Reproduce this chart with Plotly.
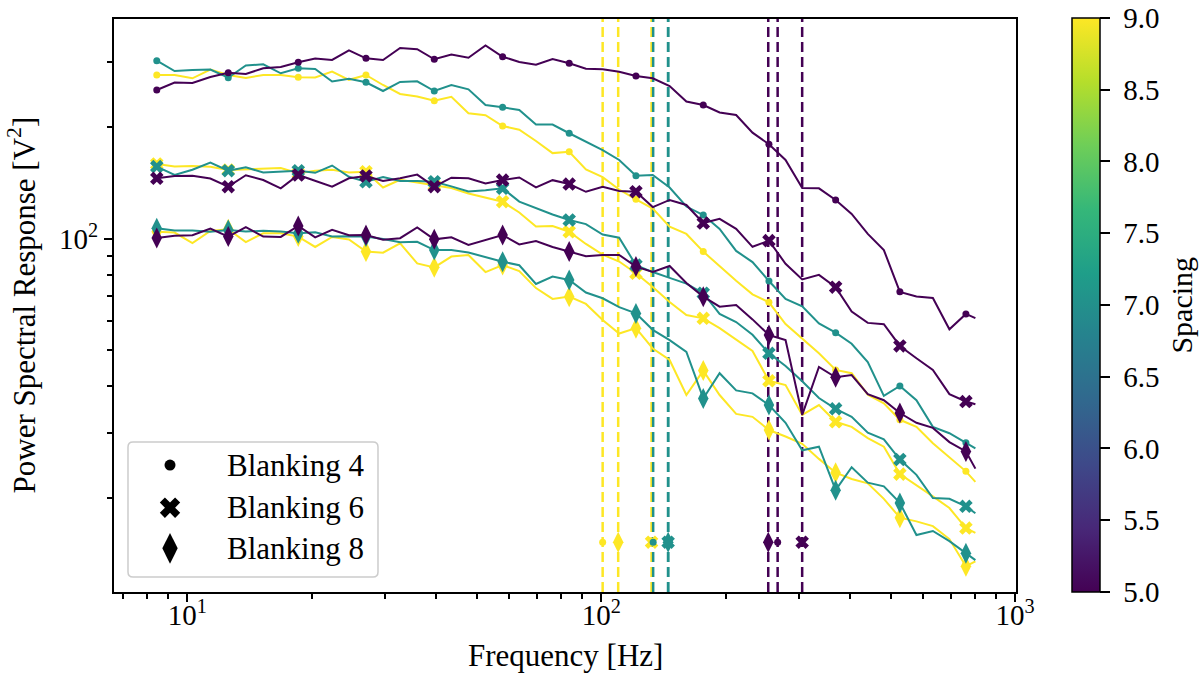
import plotly.graph_objects as go

# ---------------- data ----------------
FREQ = [8.44, 9.32, 10.29, 11.37, 12.56, 13.85, 15.26, 16.82, 18.54, 20.37,
        22.38, 24.58, 27.02, 29.71, 32.67, 35.93, 39.51, 43.45, 47.78, 52.54,
        57.78, 63.39, 69.56, 76.29, 83.69, 91.84, 100.8, 110.5, 121.3, 133.2,
        146.3, 160.6, 176.4, 193.2, 211.8, 232.0, 254.2, 278.8, 305.9, 335.7,
        368.4, 402.7, 440.5, 481.7, 526.6, 577.4, 632.7, 693.6, 760.3, 801.5]

# spacing 5
PSD_S5_B4 = [251.7, 263.6, 263.0, 272.9, 280.2, 277.9, 288.0, 290.3, 298.9, 306.0,
             303.2, 321.8, 306.4, 303.2, 326.6, 324.2, 304.5, 313.7, 307.5, 331.7,
             309.4, 299.5, 294.4, 305.1, 297.0, 287.1, 286.2, 281.9, 274.5, 270.6,
             257.9, 234.2, 229.3, 218.9, 215.5, 193.1, 179.7, 163.0, 137.0, 136.7,
             127.2, 116.6, 103.0, 93.2, 71.9, 69.9, 69.2, 57.0, 62.7, 61.1]
PSD_S5_B6 = [145.5, 147.6, 147.7, 145.3, 138.1, 148.3, 143.9, 136.7, 148.5, 143.0,
             138.1, 145.5, 147.6, 143.0, 145.5, 148.9, 138.1, 146.0, 145.5, 140.8,
             143.9, 146.2, 137.5, 143.8, 140.4, 133.8, 138.1, 134.5, 133.9, 121.7,
             127.2, 123.3, 110.2, 113.1, 106.3, 95.1, 98.8, 85.6, 77.7, 79.9,
             74.0, 63.6, 59.3, 58.8, 51.4, 47.6, 44.3, 38.1, 36.4, 35.8]
PSD_S5_B8 = [100.4, 101.9, 102.2, 106.5, 101.3, 107.5, 101.3, 101.1, 108.2, 100.8,
             105.6, 102.2, 102.3, 99.3, 100.3, 107.2, 99.6, 100.9, 96.2, 99.2,
             102.3, 96.5, 98.6, 95.0, 92.3, 89.7, 90.4, 90.4, 84.1, 81.3,
             84.4, 76.0, 69.8, 65.6, 66.3, 60.6, 55.0, 53.3, 33.5, 45.1,
             42.3, 42.9, 38.1, 36.7, 33.9, 31.9, 30.9, 28.3, 26.7, 24.0]
# spacing 7
PSD_S7_B4 = [301.8, 283.1, 284.9, 285.8, 271.6, 293.0, 295.2, 279.2, 288.0, 286.7,
             265.3, 270.0, 264.0, 250.1, 264.5, 265.7, 250.1, 259.6, 252.7, 229.3,
             226.1, 222.3, 203.1, 203.1, 192.4, 182.8, 173.4, 163.0, 147.9, 148.5,
             137.4, 122.1, 115.8, 106.2, 92.7, 86.5, 76.9, 68.8, 65.7, 59.1,
             55.8, 52.1, 46.5, 37.7, 40.1, 36.7, 31.1, 29.9, 28.2, 27.2]
PSD_S7_B6 = [156.4, 148.5, 153.4, 160.5, 152.5, 155.7, 150.8, 151.3, 152.5, 150.5,
             157.5, 146.9, 142.4, 146.7, 143.0, 143.0, 142.4, 138.4, 134.1, 135.1,
             136.7, 125.9, 120.8, 116.2, 112.3, 109.5, 102.6, 100.6, 84.9, 81.3,
             78.4, 75.7, 71.3, 62.7, 59.6, 55.1, 49.1, 45.4, 41.3, 37.2,
             34.8, 33.1, 30.0, 28.8, 25.4, 23.1, 20.0, 19.9, 19.0, 18.2]
PSD_S7_B8 = [106.7, 105.2, 105.3, 104.4, 105.6, 104.5, 105.1, 104.6, 103.4, 104.1,
             101.4, 101.6, 101.3, 99.8, 97.8, 98.1, 93.2, 93.2, 91.8, 89.1,
             86.7, 84.8, 75.5, 79.1, 77.4, 71.6, 69.1, 65.4, 62.9, 56.8,
             53.3, 49.5, 37.1, 43.4, 39.0, 38.3, 35.6, 31.9, 26.9, 27.5,
             21.0, 24.2, 22.0, 21.5, 19.4, 15.9, 16.3, 15.3, 14.2, 13.6]
# spacing 9
PSD_S9_B4 = [276.2, 276.2, 270.6, 285.8, 276.2, 271.2, 276.2, 276.2, 272.3, 272.0,
             282.2, 268.1, 276.2, 259.6, 245.5, 241.7, 235.5, 241.3, 217.8, 215.3,
             201.3, 196.7, 183.4, 170.1, 171.6, 153.7, 146.5, 135.7, 127.7, 120.6,
             107.8, 103.0, 92.3, 84.2, 77.0, 70.8, 67.4, 58.9, 53.7, 49.1,
             44.3, 43.4, 38.0, 36.0, 32.5, 31.1, 28.1, 25.8, 23.6, 22.1]
PSD_S9_B6 = [159.0, 156.5, 157.0, 156.2, 153.2, 153.8, 154.1, 155.1, 150.1, 152.5,
             153.5, 150.8, 151.6, 137.4, 144.1, 141.8, 139.5, 137.0, 132.4, 129.1,
             125.8, 117.7, 107.9, 108.2, 104.4, 96.8, 90.6, 86.8, 80.7, 74.1,
             67.5, 62.3, 61.0, 57.4, 53.3, 49.8, 41.4, 40.3, 33.5, 35.6,
             32.1, 31.1, 29.0, 27.5, 23.2, 21.7, 20.2, 18.8, 16.6, 16.1]
PSD_S9_B8 = [104.4, 103.9, 97.3, 104.9, 106.0, 97.9, 103.4, 103.4, 101.3, 95.0,
             101.1, 99.5, 92.3, 91.7, 97.2, 85.8, 83.7, 89.5, 90.4, 81.3,
             84.9, 81.8, 73.6, 68.8, 69.8, 66.7, 60.4, 55.5, 57.4, 50.6,
             47.1, 37.9, 44.1, 37.9, 33.7, 33.1, 30.5, 29.3, 28.0, 25.5,
             23.4, 22.5, 21.9, 19.9, 17.7, 17.3, 16.8, 15.5, 13.1, 13.5]

# cutoff frequencies per spacing, ordered as BLANKINGS
CUTOFF_S5 = [266.8, 305.8, 253.2]
CUTOFF_S7 = [133.5, 145.1, 145.1]
CUTOFF_S9 = [100.8, 132.3, 109.9]
CUTOFF_LEVEL = 15.2

SPACINGS = [5, 7, 9]
BLANKINGS = [4, 6, 8]
LEGEND_LABELS = ["Blanking 4", "Blanking 6", "Blanking 8"]

X_TICKVALS = [10, 100, 1000]
X_TICKTEXT = ["10<sup>1</sup>", "10<sup>2</sup>", "10<sup>3</sup>"]
X_MINOR = [7, 8, 9, 20, 30, 40, 50, 60, 70, 80, 90, 200, 300, 400, 500, 600, 700, 800, 900]
Y_TICKVALS = [100]
Y_TICKTEXT = ["10<sup>2</sup>"]
Y_MINOR = [20, 30, 40, 50, 60, 70, 80, 90, 200, 300]
CB_TICKS = [5.0, 5.5, 6.0, 6.5, 7.0, 7.5, 8.0, 8.5, 9.0]

# ---------------- styling ----------------
FONT = "Liberation Serif"
FS = 29          # tick labels
FS_TXT = 31      # axis titles / legend text
COLORS = {5: "#440154", 7: "#21918c", 9: "#fde725"}
SYMBOL = {4: "circle", 6: "x", 8: "diamond-tall"}
MSIZE = {4: 7, 6: 12, 8: 15}
MARK_EVERY = 4
XRANGE = [0.823, 3.002]
YRANGE = [1.0477, 2.5922]

series = {
    (5, 4): PSD_S5_B4, (5, 6): PSD_S5_B6, (5, 8): PSD_S5_B8,
    (7, 4): PSD_S7_B4, (7, 6): PSD_S7_B6, (7, 8): PSD_S7_B8,
    (9, 4): PSD_S9_B4, (9, 6): PSD_S9_B6, (9, 8): PSD_S9_B8,
}
cutoffs = {5: CUTOFF_S5, 7: CUTOFF_S7, 9: CUTOFF_S9}

fig = go.Figure()
shapes = []

for s in [9, 7, 5]:
    col = COLORS[s]
    for k, b in enumerate(BLANKINGS):
        y = series[(s, b)]
        fig.add_trace(go.Scatter(
            x=FREQ, y=y, mode="lines",
            line=dict(color=col, width=2),
            showlegend=False, hoverinfo="skip"))
        fig.add_trace(go.Scatter(
            x=FREQ[::MARK_EVERY], y=y[::MARK_EVERY], mode="markers",
            marker=dict(symbol=SYMBOL[b], size=MSIZE[b], color=col, line=dict(width=0)),
            showlegend=False, hoverinfo="skip"))
        c = cutoffs[s][k]
        shapes.append(dict(type="line", xref="x", yref="paper", x0=c, x1=c, y0=0, y1=1,
                           line=dict(color=col, width=2.5, dash="10px,5px"), layer="below"))
        fig.add_trace(go.Scatter(
            x=[c], y=[CUTOFF_LEVEL], mode="markers",
            marker=dict(symbol=SYMBOL[b], size=MSIZE[b], color=col, line=dict(width=0)),
            showlegend=False, hoverinfo="skip"))

# colorbar
fig.add_trace(go.Scatter(
    x=[None], y=[None], mode="markers", showlegend=False, hoverinfo="skip",
    marker=dict(color=[SPACINGS[0]], cmin=SPACINGS[0], cmax=SPACINGS[-1], colorscale="Viridis",
                showscale=True,
                colorbar=dict(
                    thickness=28, thicknessmode="pixels",
                    len=574, lenmode="pixels",
                    x=1.0621, xanchor="left", xpad=0,
                    y=0.5009, yanchor="middle", ypad=0,
                    outlinewidth=1.5, outlinecolor="black",
                    tickmode="array", tickvals=CB_TICKS,
                    ticktext=[f"\u00a0{v:.1f}" for v in CB_TICKS],
                    ticks="outside", ticklen=10, tickwidth=1.5, tickcolor="black",
                    tickfont=dict(family=FONT, size=FS, color="black"),
                ))))

# manual legend (overlay axes in [0,1] units of the plot area)
LEG_X = 0.0621
LEG_Y = [0.2216, 0.1471, 0.0763]
LEG_SIZE = {4: 11, 6: 18, 8: 22}
fig.add_trace(go.Scatter(
    x=[LEG_X] * 3, y=LEG_Y, xaxis="x2", yaxis="y2", mode="markers",
    marker=dict(symbol=[SYMBOL[b] for b in BLANKINGS], size=[LEG_SIZE[b] for b in BLANKINGS],
                color="#000000", opacity=1, line=dict(width=0)),
    showlegend=False, hoverinfo="skip"))

# legend frame with rounded corners
x0, x1, y0, y1 = 0.01552, 0.29268, 0.02618, 0.26178
rx, ry = 5 / 902, 5 / 573
path = (f"M{x0+rx},{y0} L{x1-rx},{y0} Q{x1},{y0} {x1},{y0+ry} L{x1},{y1-ry} "
        f"Q{x1},{y1} {x1-rx},{y1} L{x0+rx},{y1} Q{x0},{y1} {x0},{y1-ry} "
        f"L{x0},{y0+ry} Q{x0},{y0} {x0+rx},{y0} Z")
shapes.append(dict(type="path", xref="paper", yref="paper", path=path,
                   fillcolor="white", line=dict(color="#cccccc", width=1.5),
                   layer="below"))

annotations = []
for lbl, yy in zip(LEGEND_LABELS, LEG_Y):
    annotations.append(dict(text=lbl, xref="paper", yref="paper", x=0.1231, y=yy,
                            xanchor="left", yanchor="middle", showarrow=False,
                            font=dict(family=FONT, size=FS_TXT, color="black")))
annotations.append(dict(text="Frequency [Hz]", xref="paper", yref="paper", x=0.5, y=0,
                        xanchor="center", yanchor="middle", yshift=-63, showarrow=False,
                        font=dict(family=FONT, size=FS_TXT, color="black")))
annotations.append(dict(text="Power Spectral Response [V<sup>2</sup>]", xref="paper", yref="paper",
                        x=0, y=0.5, xanchor="center", yanchor="middle", xshift=-92,
                        textangle=-90, showarrow=False,
                        font=dict(family=FONT, size=FS_TXT, color="black")))
annotations.append(dict(text="Spacing", xref="paper", yref="paper",
                        x=1.1830, y=0.5, xanchor="center", yanchor="middle",
                        textangle=-90, showarrow=False,
                        font=dict(family=FONT, size=30, color="black")))

axis_common = dict(showline=True, linewidth=2, linecolor="black", mirror=True,
                   showgrid=False, zeroline=False, ticks="outside", ticklen=8,
                   tickwidth=2, tickcolor="black",
                   tickfont=dict(family=FONT, size=FS, color="black"))

fig.update_layout(
    width=1200, height=673,
    margin=dict(l=114, r=184, t=19, b=81),
    paper_bgcolor="white", plot_bgcolor="white",
    showlegend=False,
    font=dict(family=FONT, size=FS, color="black"),
    xaxis=dict(type="log", range=XRANGE, tickmode="array", tickvals=X_TICKVALS,
               ticktext=X_TICKTEXT, ticklabelstandoff=-12,
               minor=dict(tickmode="array", tickvals=X_MINOR, ticks="outside", ticklen=5,
                          tickwidth=1.5, tickcolor="black", showgrid=False),
               **axis_common),
    yaxis=dict(type="log", range=YRANGE, tickmode="array", tickvals=Y_TICKVALS,
               ticktext=Y_TICKTEXT,
               minor=dict(tickmode="array", tickvals=Y_MINOR, ticks="outside", ticklen=5,
                          tickwidth=1.5, tickcolor="black", showgrid=False),
               **axis_common),
    xaxis2=dict(overlaying="x", range=[0, 1], visible=False, fixedrange=True),
    yaxis2=dict(overlaying="y", range=[0, 1], visible=False, fixedrange=True),
    shapes=shapes,
    annotations=annotations,
)

fig.write_html("out.html", config={"displayModeBar": False},
               post_script="document.body.style.margin='0px';document.body.style.overflow='hidden';")
